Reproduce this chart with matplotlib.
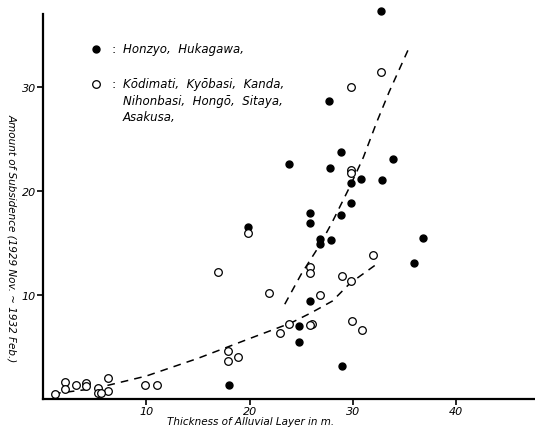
import matplotlib
matplotlib.use("Agg")
import matplotlib.pyplot as plt

# Honzyo, Hukagawa (filled marks)
filled_x = [32.7, 27.7, 28.8, 23.8, 27.8, 33.9, 30.8, 32.8, 29.8, 29.8, 28.8, 25.8, 25.8,
            19.8, 26.8, 26.8, 27.9, 36.8, 35.9, 25.8, 24.8, 24.8, 28.9, 18.0]
filled_y = [37.3, 28.6, 23.7, 22.6, 22.2, 23.0, 21.1, 21.0, 20.7, 18.8, 17.7, 17.9, 16.9,
            16.5, 15.4, 14.9, 15.3, 15.5, 13.1, 9.4, 7.0, 5.5, 3.2, 1.3]

# Kōdimati, Kyōbasi, Kanda, Nihonbasi, Hongō, Sitaya, Asakusa (open marks)
open_x = [29.8, 32.7, 29.8, 29.8, 19.8, 16.9, 31.9, 28.9, 29.8, 25.8, 25.8, 21.9, 26.8,
          23.8, 26.0, 25.8, 29.9, 30.9, 22.9, 17.9, 17.9, 18.9, 9.9, 11.0,
          6.3, 6.3, 1.2, 2.1, 2.1, 3.2, 4.2, 4.2, 5.3, 5.3, 5.6]
open_y = [30.0, 31.4, 22.0, 21.7, 15.9, 12.2, 13.8, 11.8, 11.3, 12.7, 12.1, 10.2, 10.0,
          7.2, 7.2, 7.1, 7.5, 6.6, 6.3, 4.6, 3.6, 4.0, 1.3, 1.3,
          2.0, 0.8, 0.45, 1.6, 1.0, 1.3, 1.5, 1.2, 1.1, 0.6, 0.6]

# dashed trend curves
low_x = [1, 5, 10, 15, 20, 24, 26, 28, 29.7, 32.5]
low_y = [0.5, 1.0, 2.2, 3.9, 5.8, 7.3, 8.3, 9.4, 11.1, 13.1]
up_x = [23.4, 25, 26.8, 28, 29.7, 31, 32.3, 33.5, 35.5]
up_y = [9.1, 12.0, 14.8, 17.0, 20.4, 23.2, 26.6, 29.5, 33.9]

fig = plt.figure(figsize=(5.35, 4.31), dpi=100)
ax = fig.add_axes([0.080, 0.072, 0.92, 0.894])

ax.plot(low_x, low_y, color='black', linestyle=(0, (5, 4)), linewidth=1.1)
ax.plot(up_x, up_y, color='black', linestyle=(0, (5, 4)), linewidth=1.1)

ax.plot(filled_x, filled_y, 'o', color='black', markersize=5, clip_on=False)
ax.plot(open_x, open_y, 'o', markerfacecolor='white', markeredgecolor='black',
        markersize=5.5, markeredgewidth=0.9, clip_on=False)

ax.set_xlim(0, 47.6)
ax.set_ylim(0, 37)
ax.set_xticks([10, 20, 30, 40])
ax.set_yticks([10, 20, 30])
ax.set_xticklabels(['10', '20', '30', '40'], fontstyle='italic', fontsize=8)
ax.set_yticklabels(['10', '20', '30'], fontstyle='italic', fontsize=8)
ax.tick_params(direction='out', length=4, width=1.2, pad=1)

for s in ['top', 'right']:
    ax.spines[s].set_visible(False)
for s in ['left', 'bottom']:
    ax.spines[s].set_linewidth(1.6)

ax.set_xlabel('Thickness of Alluvial Layer in m.', fontstyle='italic', fontsize=7.5,
              va='center')
ax.xaxis.set_label_coords(0.423, -0.058)
ax.set_ylabel('Amount of Subsidence (1929 Nov. ~ 1932 Feb.)', fontstyle='italic',
              fontsize=7.5, rotation=270, va='center')
ax.yaxis.set_label_coords(-0.062, 0.42)

# legend drawn by hand
ax.plot([0.108], [0.909], 'o', color='black', markersize=5, transform=ax.transAxes)
ax.plot([0.108], [0.818], 'o', markerfacecolor='white', markeredgecolor='black',
        markersize=5.5, markeredgewidth=0.9, transform=ax.transAxes)
ax.text(0.140, 0.909, ':', transform=ax.transAxes, va='center', fontsize=9)
ax.text(0.140, 0.818, ':', transform=ax.transAxes, va='center', fontsize=9)
ax.text(0.163, 0.909, 'Honzyo,  Hukagawa,', transform=ax.transAxes, va='center',
        fontsize=8.5, fontstyle='italic')
ax.text(0.163, 0.835, 'Kōdimati,  Kyōbasi,  Kanda,\nNihonbasi,  Hongō,  Sitaya,\nAsakusa,',
        transform=ax.transAxes, va='top', fontsize=8.5, fontstyle='italic',
        linespacing=1.35)

fig.savefig('out.png', dpi=100)
